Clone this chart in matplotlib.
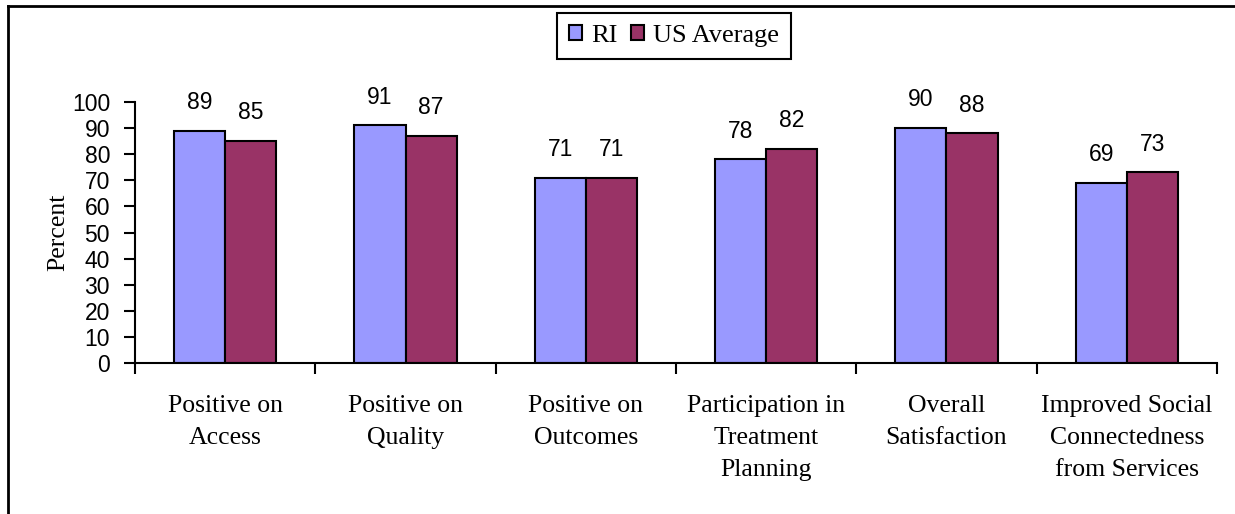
import matplotlib
matplotlib.use('Agg')
import matplotlib.pyplot as plt
from matplotlib.lines import Line2D
import numpy as np

# Daten
categories = [
    'Positive on\nAccess',
    'Positive on\nQuality',
    'Positive on\nOutcomes',
    'Participation in\nTreatment\nPlanning',
    'Overall\nSatisfaction',
    'Improved Social\nConnectedness\nfrom Services',
]
ri_values = [89, 91, 71, 78, 90, 69]
us_values = [85, 87, 71, 82, 88, 73]
y_ticks = list(range(0, 101, 10))

RI_COLOR = '#9999FF'
US_COLOR = '#993366'
SERIF = ['Liberation Serif', 'DejaVu Serif']
SANS = ['Liberation Sans', 'DejaVu Sans']

fig = plt.figure(figsize=(12.35, 5.14), dpi=100)
ax = fig.add_axes([135 / 1235, 1 - 363 / 514, (1217 - 135) / 1235, (363 - 102) / 514])

x = np.arange(len(categories))
w = 0.283
bars_ri = ax.bar(x - w / 2, ri_values, w, color=RI_COLOR, edgecolor='black',
                 linewidth=1.5, label='RI')
bars_us = ax.bar(x + w / 2, us_values, w, color=US_COLOR, edgecolor='black',
                 linewidth=1.5, label='US Average')

# Datenbeschriftungen
for bars, vals in [(bars_ri, ri_values), (bars_us, us_values)]:
    for b, v in zip(bars, vals):
        ax.annotate(str(v), (b.get_x() + b.get_width() / 2, v),
                    xytext=(0, 12), textcoords='offset points',
                    ha='center', va='bottom', fontsize=16.5, family=SANS)

ax.set_xlim(-0.5, len(categories) - 0.5)
ax.set_ylim(0, 100)
ax.set_yticks(y_ticks)
ax.set_yticklabels([str(t) for t in y_ticks], family=SANS, fontsize=16.5)

# Kategorie-Ticks an den Grenzen, Labels in der Mitte
ax.set_xticks(np.arange(-0.5, len(categories)), minor=False)
ax.set_xticklabels([])
ax.set_xticks(x, minor=True)
ax.set_xticklabels(categories, minor=True, family=SERIF, fontsize=18.5,
                   linespacing=1.6)
ax.tick_params(axis='x', which='minor', length=0, pad=23)
ax.tick_params(axis='x', which='major', length=8, width=1.5, direction='out')
ax.tick_params(axis='y', length=8, width=1.5, direction='out', pad=10)

for s in ['top', 'right']:
    ax.spines[s].set_visible(False)
for s in ['left', 'bottom']:
    ax.spines[s].set_linewidth(1.5)

ax.set_ylabel('Percent', family=SERIF, fontsize=18.5, labelpad=2)

leg = fig.legend(handles=[bars_ri, bars_us], labels=['RI', 'US Average'],
                 loc='center', bbox_to_anchor=(674 / 1235, 1 - 36 / 514),
                 ncol=2, prop={'family': SERIF, 'size': 19},
                 handlelength=0.5, handleheight=0.5, handletextpad=0.35,
                 columnspacing=0.5, borderpad=0.45, fancybox=False,
                 edgecolor='black', framealpha=1)
leg.get_frame().set_linewidth(1.5)

# Rahmen links und oben
fig.add_artist(Line2D([8 / 1235, 8 / 1235], [0, 1 - 6 / 514], color='black',
                      linewidth=2, transform=fig.transFigure))
fig.add_artist(Line2D([8 / 1235, 1], [1 - 6 / 514, 1 - 6 / 514], color='black',
                      linewidth=2, transform=fig.transFigure))

fig.savefig('out.png', dpi=100)
